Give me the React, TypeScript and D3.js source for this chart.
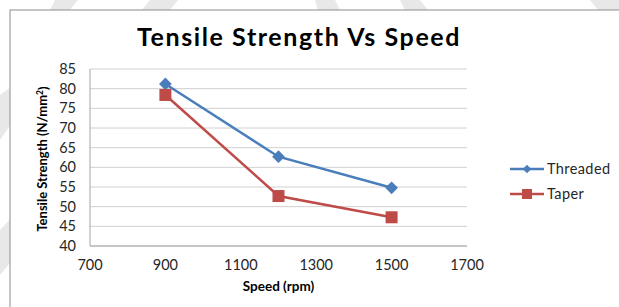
import { scaleLinear, line } from 'd3';

// values
const speeds = [900, 1200, 1500];
const threaded = [81.2, 62.7, 54.8];
const taper = [78.4, 52.7, 47.3];
const xTicks = [700, 900, 1100, 1300, 1500, 1700];
const yTicks = [40, 45, 50, 55, 60, 65, 70, 75, 80, 85];

const seriesNames = ['Threaded', 'Taper'];
const seriesColors = ['#4a7ebb', '#be4b48'];

const font = 'Lato, "Open Sans", sans-serif';

export default function App() {
    const W = 619;
    const H = 307;
    const plot = { left: 90, right: 467, top: 69, bottom: 246 };

    const x = scaleLinear().domain([700, 1700]).range([plot.left, plot.right]);
    const y = scaleLinear().domain([40, 85]).range([plot.bottom, plot.top]);

    const path = line<number>()
        .x((_, i) => x(speeds[i]))
        .y((d) => y(d));

    const allSeries = [threaded, taper];

    return (
        <svg
            width={W}
            height={H}
            style={{ position: 'absolute', left: 0, top: 0, fontFamily: font }}
        >
            <rect width={W} height={H} fill='#fff' />
            {/* faint watermark stripes behind the chart box */}
            <g fill='#e8e8e8'>
                <polygon points='0,95 0,140 14,120 14,85' />
                <polygon points='0,230 0,275 14,258 14,215' />
                <polygon points='55,0 78,0 70,10 50,10' />
                <polygon points='150,0 178,0 170,10 142,10' />
                <polygon points='315,0 335,0 340,10 318,10' />
                <polygon points='400,0 420,0 428,10 405,10' />
                <polygon points='590,0 619,0 619,10 598,10' />
            </g>
            <rect x={10} y={10} width={W + 20} height={H + 20} fill='#fff' stroke='#8c8c8c' strokeWidth={1} />

            <text x={299} y={46} textAnchor='middle' fontSize={25} fontWeight='bold' letterSpacing={1.6} fill='#000'>
                Tensile Strength Vs Speed
            </text>

            {/* grid */}
            {yTicks.map((t) => (
                <line key={`g-${t}`} x1={plot.left} x2={plot.right} y1={y(t)} y2={y(t)} stroke='#d0d0d0' strokeWidth={1} />
            ))}
            <line x1={plot.left} x2={plot.left} y1={plot.top} y2={plot.bottom} stroke='#a6a6a6' />
            <line x1={plot.left} x2={plot.right} y1={plot.bottom} y2={plot.bottom} stroke='#a6a6a6' />

            {yTicks.map((t) => (
                <text key={`yl-${t}`} x={76} y={y(t)} dy='0.35em' textAnchor='end' fontSize={14.5} fill='#262626'>
                    {t}
                </text>
            ))}
            {xTicks.map((t) => (
                <text key={`xl-${t}`} x={x(t)} y={265} dy='0.35em' textAnchor='middle' fontSize={14.5} fill='#262626'>
                    {t}
                </text>
            ))}

            <text x={(plot.left + plot.right) / 2} y={286} dy='0.35em' textAnchor='middle' fontSize={13.5} fontWeight='bold' fill='#000'>
                Speed (rpm)
            </text>
            <text
                transform={`translate(42, 159) rotate(-90)`}
                dy='0.35em'
                textAnchor='middle'
                fontSize={13}
                fontWeight='bold'
                fill='#000'
            >
                Tensile Strength (N/mm<tspan dy='-0.4em' fontSize={8.5}>2</tspan><tspan dy='0.4em'>)</tspan>
            </text>

            {allSeries.map((vals, s) => (
                <g key={`s-${s}`}>
                    <path d={path(vals) ?? ''} fill='none' stroke={seriesColors[s]} strokeWidth={2.5} />
                    {vals.map((v, i) =>
                        s === 0 ? (
                            <rect
                                key={i}
                                x={-4.5}
                                y={-4.5}
                                width={9}
                                height={9}
                                fill={seriesColors[s]}
                                transform={`translate(${x(speeds[i])}, ${y(v)}) rotate(45)`}
                            />
                        ) : (
                            <rect key={i} x={x(speeds[i]) - 6} y={y(v) - 6} width={12} height={12} fill={seriesColors[s]} />
                        )
                    )}
                </g>
            ))}

            {/* legend */}
            {seriesNames.map((name, s) => {
                const ly = 169 + s * 25;
                return (
                    <g key={name}>
                        <line x1={510} x2={544} y1={ly} y2={ly} stroke={seriesColors[s]} strokeWidth={2.5} />
                        {s === 0 ? (
                            <rect x={-3} y={-3} width={6} height={6} fill={seriesColors[s]} transform={`translate(527, ${ly}) rotate(45)`} />
                        ) : (
                            <rect x={522} y={ly - 5} width={10} height={10} fill={seriesColors[s]} />
                        )}
                        <text x={547} y={ly} dy='0.35em' fontSize={14.5} letterSpacing={0.4} fill='#262626'>
                            {name}
                        </text>
                    </g>
                );
            })}
        </svg>
    );
}
